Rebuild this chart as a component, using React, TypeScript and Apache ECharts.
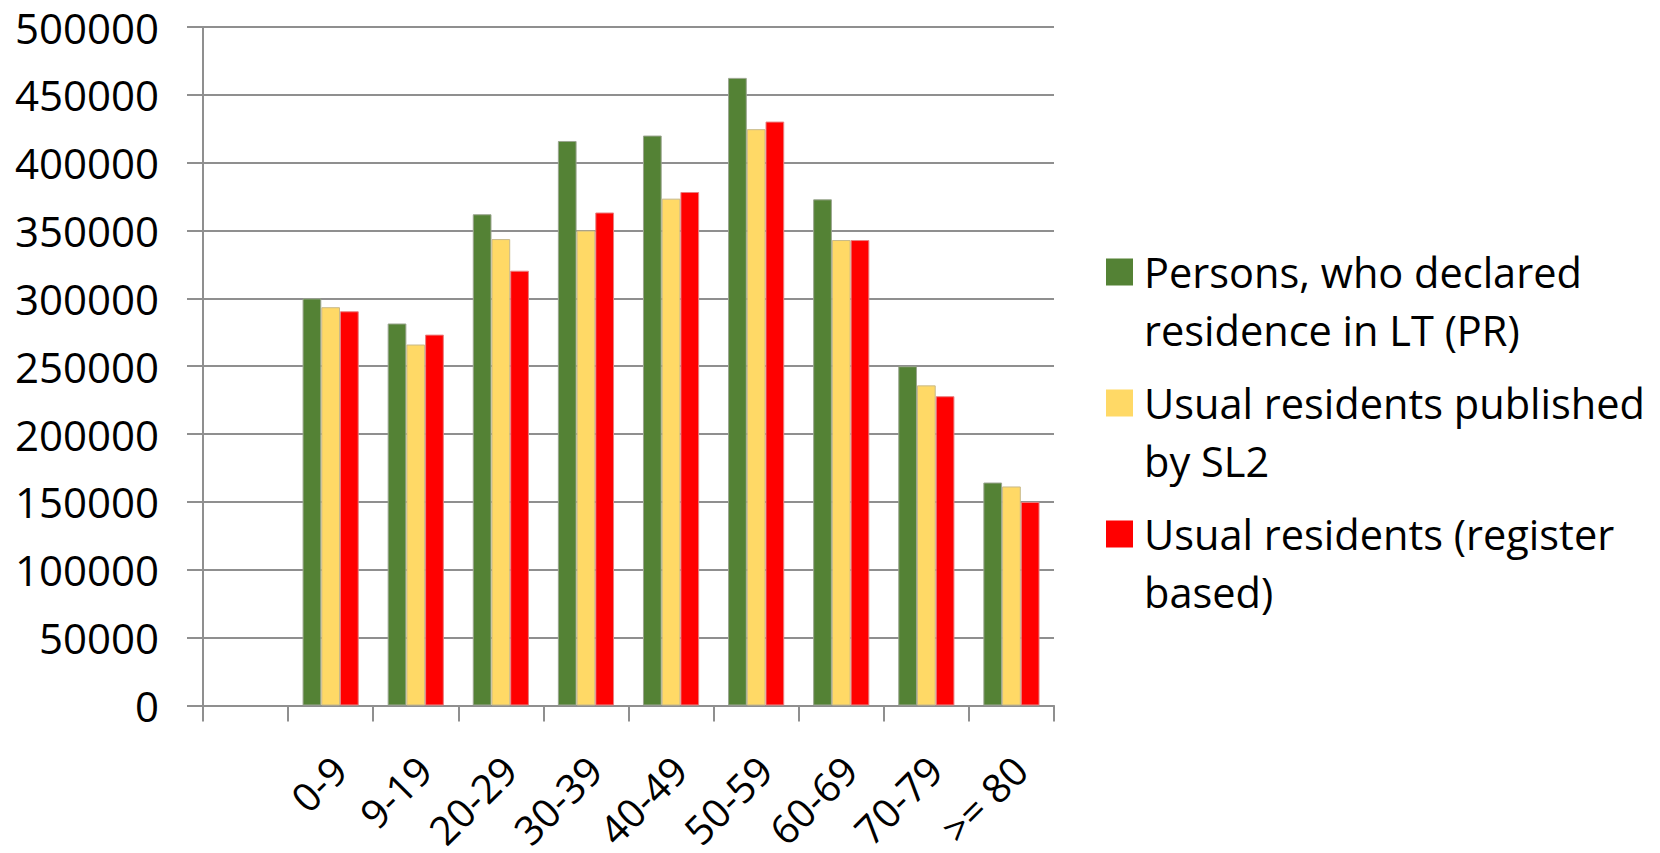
import React, { useEffect, useRef } from "react";
import * as echarts from "echarts";

const categories = ["", "0-9", "9-19", "20-29", "30-39", "40-49", "50-59", "60-69", "70-79", ">= 80"];
const seriesNames = [
  "Persons, who declared\nresidence in LT (PR)",
  "Usual residents published\nby SL2",
  "Usual residents (register\nbased)",
];
const declaredPR = [null, 300000, 281500, 362000, 416000, 420000, 462500, 373000, 250000, 164300];
const publishedSL2 = [null, 293500, 266000, 343700, 350000, 373500, 424700, 343000, 235900, 161400];
const registerBased = [null, 290500, 273300, 320400, 363300, 378400, 430300, 343000, 227900, 150000];
const yTicks = { min: 0, max: 500000, interval: 50000 };

const colors = ["#548235", "#FFD966", "#FF0000"];
const borderColors = ["#9aa58f", "#c8b98a", "#e88080"];
const FONT = "Open Sans";
const legendIcon = "path://M0,0L0.01,0M0,15.5L27,15.5L27,42.5L0,42.5ZM33,116L32.99,116";

export default function App() {
  const ref = useRef<HTMLDivElement>(null);
  useEffect(() => {
    if (!ref.current) return;
    const chart = echarts.init(ref.current, null, { renderer: "svg" });
    const data = [declaredPR, publishedSL2, registerBased];
    chart.setOption({
      animation: false,
      backgroundColor: "#ffffff",
      textStyle: { fontFamily: FONT },
      grid: { left: 203, top: 27, width: 851, height: 686, containLabel: false },
      legend: {
        orient: "vertical",
        left: 1101,
        top: 238,
        itemWidth: 33,
        itemHeight: 116,
        itemGap: 15,
        icon: legendIcon,
        data: seriesNames,
        textStyle: { fontFamily: FONT, fontSize: 41.5, lineHeight: 58, color: "#000" },
        itemStyle: { borderWidth: 0 },
      },
      xAxis: {
        type: "category",
        data: categories,
        axisLine: { lineStyle: { color: "#8f8f8f", width: 2 } },
        axisTick: { show: true, length: 16, lineStyle: { color: "#8f8f8f", width: 2 } },
        axisLabel: {
          interval: 0,
          rotate: 45,
          margin: 49,
          align: "right",
          verticalAlign: "top",
          lineHeight: 24,
          fontFamily: FONT,
          fontSize: 40,
          color: "#000",
        },
      },
      yAxis: {
        type: "value",
        min: yTicks.min,
        max: yTicks.max,
        interval: yTicks.interval,
        axisLine: { show: true, lineStyle: { color: "#8f8f8f", width: 2 } },
        axisTick: { show: true, length: 16, lineStyle: { color: "#8f8f8f", width: 2 } },
        splitLine: { show: true, lineStyle: { color: "#8f8f8f", width: 2 } },
        axisLabel: {
          margin: 44,
          fontFamily: FONT,
          fontSize: 42,
          color: "#000",
          formatter: (v: number) => String(v),
        },
      },
      series: seriesNames.map((name, i) => ({
        name,
        type: "bar",
        data: data[i],
        barGap: "0%",
        barCategoryGap: "34%",
        itemStyle: { color: colors[i], borderColor: borderColors[i], borderWidth: 1 },
      })),
    });
    return () => chart.dispose();
  }, []);
  return (
    <div
      ref={ref}
      style={{ position: "absolute", left: 0, top: 0, width: 1660, height: 853 }}
    />
  );
}
